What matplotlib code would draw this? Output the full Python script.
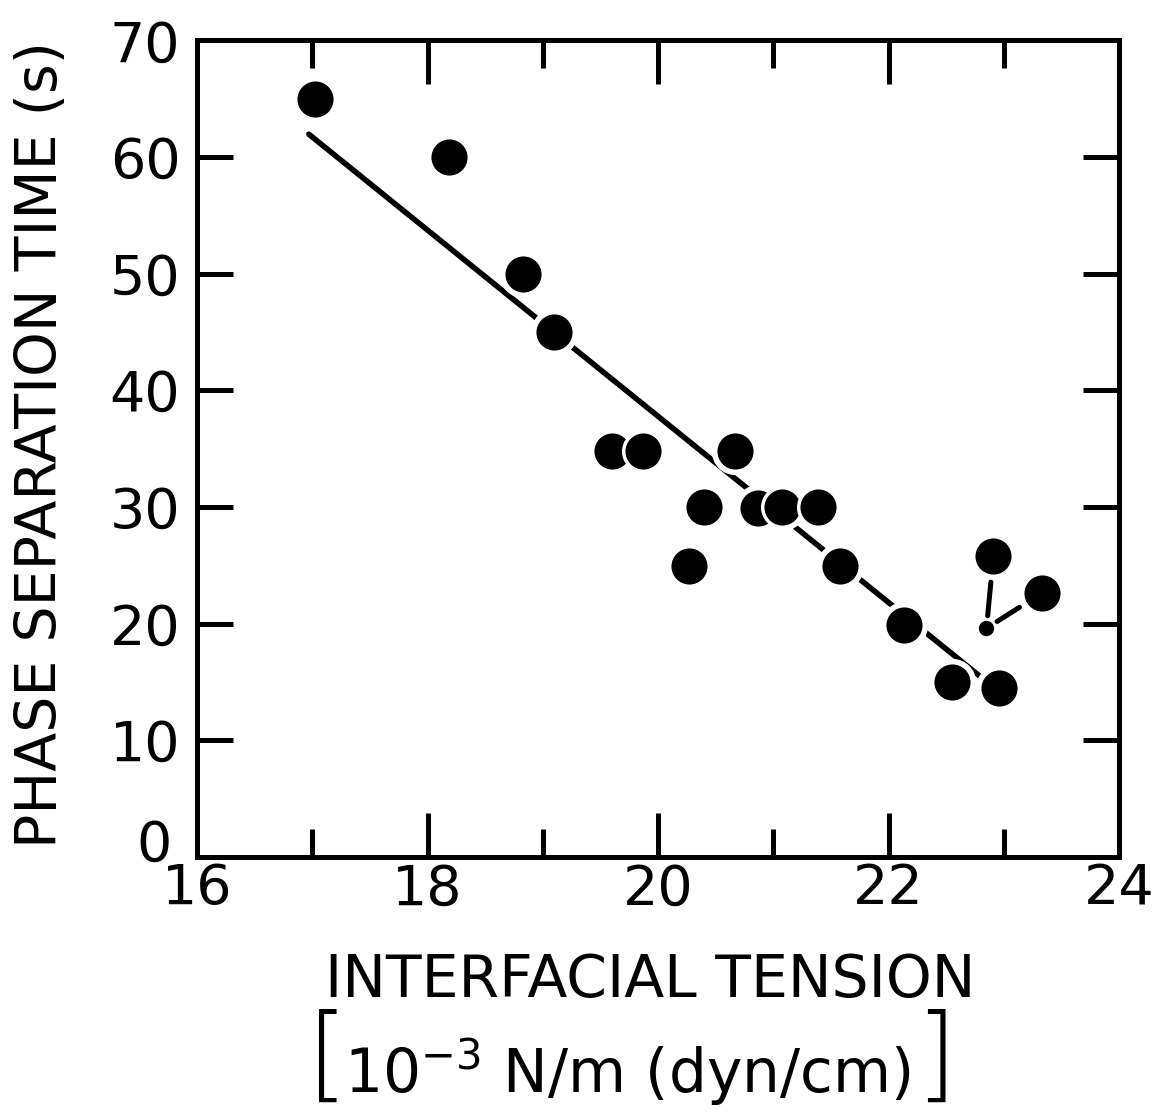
import matplotlib
matplotlib.use("Agg")
import matplotlib.pyplot as plt
import matplotlib.transforms as mtransforms

# data
tension = [17.02, 18.19, 18.83, 19.10, 19.60, 19.87, 20.27, 20.40, 20.67,
           20.87, 21.08, 21.39, 21.58, 22.13, 22.55, 22.91, 22.96, 23.33]
sep_time = [65.0, 60.0, 50.0, 45.0, 34.8, 34.8, 24.9, 30.0, 34.8,
            29.9, 30.0, 30.0, 24.9, 19.9, 15.0, 25.8, 14.5, 22.6]

# hand drawn fit line (end points)
fit_x = [16.97, 22.79]
fit_y = [61.95, 15.5]

# small dot joined to two of the points
dot_x, dot_y = 22.85, 19.6
dot_links = [15, 17]

x_major = [16, 18, 20, 22, 24]
x_minor = [17, 19, 21, 23]
y_ticks = [0, 10, 20, 30, 40, 50, 60, 70]

plt.rcParams['font.family'] = ['DejaVu Sans']
plt.rcParams['mathtext.fontset'] = 'dejavusans'

fig = plt.figure(figsize=(11.59, 11.2), dpi=100)
ax = fig.add_axes([0.170, 0.235, 0.7955, 0.729])

ax.plot(fit_x, fit_y, color='black', lw=4, solid_capstyle='round', zorder=1)
# white halo behind markers breaks the line like the drawing
ax.plot(tension, sep_time, 'o', ms=33, color='white', zorder=2)
ax.plot(tension, sep_time, 'o', ms=28.5, mfc='black', mec='white', mew=2.5, zorder=3)

ax.plot(dot_x, dot_y, 'o', ms=10, color='black', zorder=3)
for i in dot_links:
    ax.annotate('', xy=(tension[i], sep_time[i]), xytext=(dot_x, dot_y),
                arrowprops=dict(arrowstyle='-', lw=3.6, color='black',
                                shrinkA=9, shrinkB=19))

ax.set_xlim(16, 24)
ax.set_ylim(0, 70)
ax.set_xticks(x_major)
ax.set_xticks(x_minor, minor=True)
ax.set_yticks(y_ticks)

for s in ax.spines.values():
    s.set_linewidth(3.6)

ax.tick_params(which='both', direction='in', top=True, right=True, width=3.6)
ax.tick_params(axis='x', which='major', length=32, pad=4, labelsize=40)
ax.tick_params(axis='x', which='minor', length=20)
ax.tick_params(axis='y', length=26, pad=12, labelsize=40)

# lift the "0" a little so it clears the "16"
lbl0 = ax.get_yticklabels()[0]
lbl0.set_transform(lbl0.get_transform() +
                   mtransforms.ScaledTranslation(-6 / 72, 12 / 72, fig.dpi_scale_trans))

fig.text(0.036, 0.6027, 'PHASE SEPARATION TIME (s)', rotation=90,
         ha='center', va='center', fontsize=41)
fig.text(0.561, 0.125, 'INTERFACIAL TENSION', ha='center', va='center', fontsize=42)
fig.text(0.541, 0.024, r'$10^{-3}$ N/m (dyn/cm)', ha='center', va='baseline', fontsize=43)
fig.text(0.283, 0.0536, '[', ha='center', va='center', fontsize=76, fontweight='light')
fig.text(0.807, 0.0536, ']', ha='center', va='center', fontsize=76, fontweight='light')

fig.savefig('out.png', dpi=100)
